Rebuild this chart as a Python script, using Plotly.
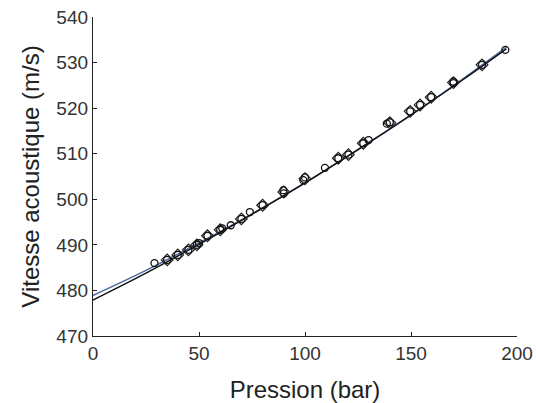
import plotly.graph_objects as go

# Measured points (circles)
circ_x = [29, 35, 40, 45, 49, 50, 54, 60, 61, 65, 70, 74, 80, 89.8, 90, 99.2, 100, 109.4, 115.7, 120.5, 127.5, 130, 138.6, 140, 149.6, 154.3, 159.5, 170, 170, 183.5, 194.5]
circ_y = [486.0, 486.7, 487.8, 488.9, 490.0, 490.4, 492.0, 493.3, 493.6, 494.3, 495.7, 497.2, 498.7, 502.0, 501.3, 504.2, 504.8, 506.9, 509.0, 509.8, 512.3, 513.0, 516.6, 516.9, 519.3, 520.7, 522.4, 525.5, 525.8, 529.5, 532.8]

# Second marker set (diamonds)
diam_x = [35, 40, 45, 49, 54, 60, 70, 80, 90, 100, 115.7, 120.5, 127.5, 140, 149.6, 154.3, 159.5, 170, 183.5]
diam_y = [486.7, 487.8, 488.9, 490.0, 492.0, 493.3, 495.7, 498.7, 501.6, 504.5, 509.0, 509.8, 512.3, 516.8, 519.3, 520.7, 522.4, 525.6, 529.5]

# Fitted curves
line_x = [0, 25, 50, 75, 100, 125, 150, 175, 195]
black_y = [477.9, 483.8, 490.1, 496.7, 503.6, 510.9, 518.5, 526.4, 533.0]
blue_y = [478.9, 484.4, 490.4, 496.8, 503.6, 510.9, 518.5, 526.6, 533.4]

fig = go.Figure()
fig.add_trace(go.Scatter(x=line_x, y=blue_y, mode="lines", line=dict(color="#4f6f9f", width=1.6, shape="spline"), showlegend=False))
fig.add_trace(go.Scatter(x=line_x, y=black_y, mode="lines", line=dict(color="#111111", width=1.4, shape="spline"), showlegend=False))
fig.add_trace(go.Scatter(x=diam_x, y=diam_y, mode="markers",
                         marker=dict(symbol="diamond-open", size=9, color="#222222", line=dict(width=1.2)), showlegend=False))
fig.add_trace(go.Scatter(x=circ_x, y=circ_y, mode="markers",
                         marker=dict(symbol="circle-open", size=7, color="#111111", line=dict(width=1.3)), showlegend=False))

font_fam = "Liberation Sans, Arial, Helvetica, sans-serif"
fig.update_layout(
    width=536, height=403,
    margin=dict(l=93, r=19, t=17, b=67),
    plot_bgcolor="white", paper_bgcolor="white",
    font=dict(family=font_fam, color="#333333"),
)
fig.update_xaxes(range=[0, 200], tickvals=[0, 50, 100, 150, 200], ticks="inside", ticklen=4, tickcolor="#222",
                 showline=True, linecolor="#222", linewidth=1.3, showgrid=False, zeroline=False, automargin=False,
                 tickfont=dict(size=19, color="#333"), ticklabeloverflow="allow",
                 title=dict(text="Pression (bar)", font=dict(size=24, color="#222"), standoff=18))
fig.update_yaxes(range=[470, 540], tickvals=[470, 480, 490, 500, 510, 520, 530, 540], ticks="inside", ticklen=4, tickcolor="#222",
                 showline=True, linecolor="#222", linewidth=1.3, showgrid=False, zeroline=False, automargin=False,
                 tickfont=dict(size=19, color="#333"), ticklabeloverflow="allow",
                 title=dict(text="Vitesse acoustique (m/s)", font=dict(size=24, color="#222"), standoff=9))
fig.write_html("out.html", config={"displayModeBar": False},
               post_script="document.body.style.margin='0';")
